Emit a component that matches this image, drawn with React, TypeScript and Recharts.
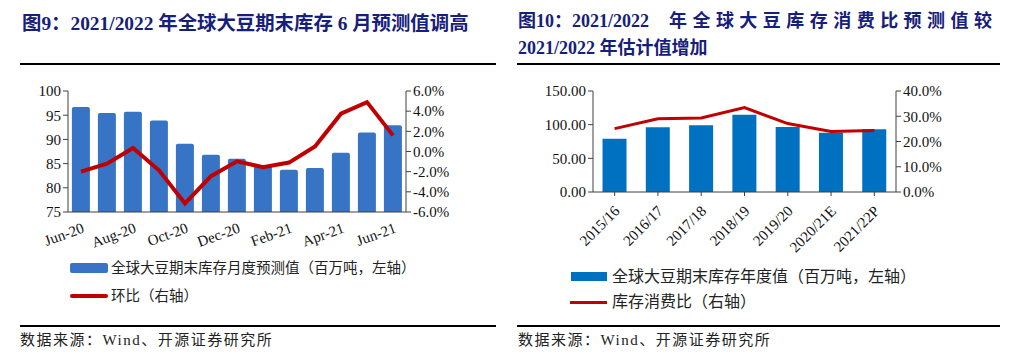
import React from 'react'
import { ComposedChart, Bar, Line, XAxis, YAxis } from 'recharts'

// 图9 月度数据
const months = ['Jun-20', 'Jul-20', 'Aug-20', 'Sep-20', 'Oct-20', 'Nov-20', 'Dec-20', 'Jan-21', 'Feb-21', 'Mar-21', 'Apr-21', 'May-21', 'Jun-21']
const stockMonthly = [96.7, 95.45, 95.7, 93.9, 89.1, 86.85, 86.0, 84.6, 83.75, 84.1, 87.25, 91.45, 92.9]
const momChange = [-2.0, -1.2, 0.35, -1.87, -5.15, -2.45, -0.98, -1.55, -1.1, 0.5, 3.75, 4.9, 1.6]
const leftTicks9 = [75, 80, 85, 90, 95, 100]
const rightTicks9 = [-6, -4, -2, 0, 2, 4, 6]

// 图10 年度数据
const seasons = ['2015/16', '2016/17', '2017/18', '2018/19', '2019/20', '2020/21E', '2021/22P']
const stockYearly = [79.2, 96.0, 99.0, 114.9, 96.5, 88.1, 93.1]
const stockToUse = [25.1, 29.0, 29.3, 33.4, 27.1, 24.0, 24.4]
const leftTicks10 = [0, 50, 100, 150]
const rightTicks10 = [0, 10, 20, 30, 40]

const data9 = months.map((m, i) => ({ m, stock: stockMonthly[i], mom: momChange[i] }))
const data10 = seasons.map((s, i) => ({ s, stock: stockYearly[i], ratio: stockToUse[i] }))

const SERIF = '"Liberation Serif", "Noto Sans CJK SC", serif'
const CJK = '"Liberation Serif", "Noto Sans CJK SC", sans-serif'
const NAVY = '#16207a'
const AXIS = '#404040'
const tickStyle = { fontFamily: SERIF, fontSize: 15, fill: '#111' }

const MonthTick = (props: any) => {
  const { x, y, payload } = props
  return (
    <text x={x + 4} y={y + 12} transform={`rotate(-20, ${x + 4}, ${y + 12})`} textAnchor="end"
      fontFamily={SERIF} fontSize={15} fill="#111">
      {payload.value}
    </text>
  )
}

const SeasonTick = (props: any) => {
  const { x, y, payload } = props
  return (
    <text x={x + 6} y={y + 14} transform={`rotate(-45, ${x + 6}, ${y + 14})`} textAnchor="end"
      fontFamily={SERIF} fontSize={15} fill="#111">
      {payload.value}
    </text>
  )
}

const abs = (l: number, t: number, extra: any = {}) => ({ position: 'absolute' as const, left: l, top: t, ...extra })

export default function App() {
  return (
    <div style={{ position: 'absolute', left: 0, top: 0, width: 1016, height: 363, background: '#fff', fontFamily: CJK }}>
      {/* titles */}
      <div style={abs(22, 7, { fontSize: 19.4, fontWeight: 'bold', color: NAVY, whiteSpace: 'nowrap', fontFamily: SERIF })}>
        图9：2021/2022 年全球大豆期末库存 6 月预测值调高
      </div>
      <div style={abs(518, 8, { width: 474, fontSize: 18, fontWeight: 'bold', color: NAVY, fontFamily: SERIF, lineHeight: '27px', textAlign: 'justify', textAlignLast: 'justify' })}>
        <span style={{ display: 'inline-block' }}>图10：2021/2022</span>&nbsp;&nbsp;年全球大豆库存消费比预测值较
      </div>
      <div style={abs(518, 35, { fontSize: 18, fontWeight: 'bold', color: NAVY, fontFamily: SERIF, lineHeight: '27px', whiteSpace: 'nowrap' })}>
        2021/2022 年估计值增加
      </div>
      <div style={abs(20, 63, { width: 476, height: 1.5, background: '#000' })} />
      <div style={abs(517, 63, { width: 483, height: 1.5, background: '#000' })} />

      {/* 图9 chart */}
      <div style={abs(0, 0)}>
        <ComposedChart width={500} height={260} data={data9} margin={{ top: 91, left: 8, right: 24, bottom: 8 }} barCategoryGap="15%">
          <XAxis dataKey="m" interval={1} tickLine={false} height={40} stroke={AXIS} tick={<MonthTick />} />
          <YAxis yAxisId="l" domain={[75, 100]} ticks={leftTicks9} interval={0} width={60} stroke={AXIS} tickSize={5}
            tick={tickStyle} allowDataOverflow />
          <YAxis yAxisId="r" orientation="right" domain={[-6, 6]} ticks={rightTicks9} interval={0} width={70} stroke={AXIS} tickSize={5}
            tick={tickStyle} tickFormatter={(v: number) => v.toFixed(1) + '%'} />
          <Bar yAxisId="l" dataKey="stock" fill="#3774C5" radius={[2, 2, 0, 0]} isAnimationActive={false} />
          <Line yAxisId="r" dataKey="mom" stroke="#C00000" strokeWidth={4} dot={false} type="linear" isAnimationActive={false} />
        </ComposedChart>
      </div>

      {/* 图10 chart */}
      <div style={abs(510, 0)}>
        <ComposedChart width={480} height={260} data={data10} margin={{ top: 91, left: 13, right: 20, bottom: 8 }} barCategoryGap="22%">
          <XAxis dataKey="s" interval={0} height={60} stroke={AXIS} tickSize={4} tick={<SeasonTick />} />
          <YAxis yAxisId="l" domain={[0, 150]} ticks={leftTicks10} interval={0} width={70} stroke={AXIS} tickSize={5}
            tick={tickStyle} tickFormatter={(v: number) => v.toFixed(2)} />
          <YAxis yAxisId="r" orientation="right" domain={[0, 40]} ticks={rightTicks10} interval={0} width={74} stroke={AXIS} tickSize={5}
            tick={tickStyle} tickFormatter={(v: number) => v.toFixed(1) + '%'} />
          <Bar yAxisId="l" dataKey="stock" fill="#0070C0" isAnimationActive={false} />
          <Line yAxisId="r" dataKey="ratio" stroke="#C00000" strokeWidth={3} dot={false} type="linear" isAnimationActive={false} />
        </ComposedChart>
      </div>

      {/* legends */}
      <div style={abs(70, 263, { width: 38, height: 10, background: '#3774C5', borderRadius: 2 })} />
      <div style={abs(111, 259, { fontSize: 14.5, lineHeight: '18px', whiteSpace: 'nowrap', color: '#222' })}>
        全球大豆期末库存月度预测值（百万吨，左轴）
      </div>
      <div style={abs(70, 294, { width: 38, height: 4, background: '#C00000', borderRadius: 2 })} />
      <div style={abs(111, 287, { fontSize: 14.5, lineHeight: '18px', whiteSpace: 'nowrap', color: '#222' })}>
        环比（右轴）
      </div>

      <div style={abs(571, 272, { width: 36, height: 9, background: '#0070C0' })} />
      <div style={abs(612, 267, { fontSize: 16, lineHeight: '20px', whiteSpace: 'nowrap', color: '#222' })}>
        全球大豆期末库存年度值（百万吨，左轴）
      </div>
      <div style={abs(570, 301, { width: 37, height: 3, background: '#C00000' })} />
      <div style={abs(612, 292, { fontSize: 16, lineHeight: '20px', whiteSpace: 'nowrap', color: '#222' })}>
        库存消费比（右轴）
      </div>

      {/* source */}
      <div style={abs(20, 325, { width: 476, height: 1.5, background: '#000' })} />
      <div style={abs(517, 325, { width: 483, height: 1.5, background: '#000' })} />
      <div style={abs(20, 331, { fontSize: 15, letterSpacing: 1.5, lineHeight: '18px', whiteSpace: 'nowrap', color: '#222' })}>
        数据来源：Wind、开源证券研究所
      </div>
      <div style={abs(518, 331, { fontSize: 15, letterSpacing: 1.5, lineHeight: '18px', whiteSpace: 'nowrap', color: '#222' })}>
        数据来源：Wind、开源证券研究所
      </div>
    </div>
  )
}
